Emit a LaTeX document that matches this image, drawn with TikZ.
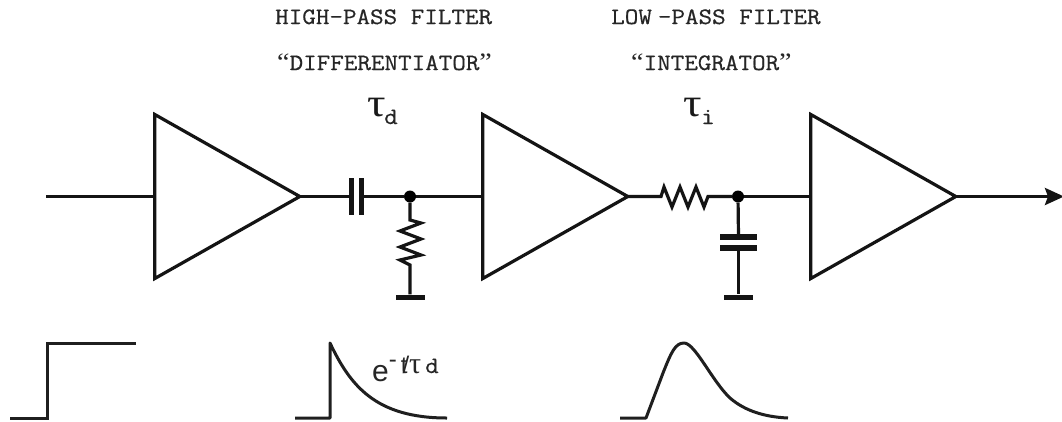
\documentclass[tikz,border=0pt]{standalone}
\usepackage{fontspec}
\usetikzlibrary{shapes.geometric,arrows.meta}
\newfontfamily\sansf{Liberation Sans}
\newfontfamily\serf{Liberation Serif}
\newfontfamily\monof[FakeBold=0.5]{Latin Modern Mono}
\tikzset{
  wire/.style={line width=3.2pt,draw=black!92,line join=miter},
  fromapex/.style={shorten <=-4pt},
  amp/.style={isosceles triangle,isosceles triangle stretches,shape border rotate=0,
    draw=black!92,line width=3.2pt,inner sep=0pt,minimum height=145pt,minimum width=164pt,anchor=apex},
  hdr/.style={inner sep=0pt,anchor=base west,xscale=1.12,text=black!85,font=\monof\fontsize{23.5}{24}\selectfont},
  tausym/.style={inner sep=0pt,anchor=base west,xscale=1.15,text=black!90,font=\serf\fontsize{40}{42}\selectfont},
  jun/.style={circle,fill=black,inner sep=0pt,minimum size=12pt},
  vplate/.style={rectangle,fill=black!92,inner sep=0pt,minimum width=5.5pt,minimum height=37pt},
  hplate/.style={rectangle,fill=black!92,inner sep=0pt,minimum width=37pt,minimum height=5.5pt},
  gnd/.style={rectangle,fill=black!92,inner sep=0pt,minimum width=29pt,minimum height=5pt},
  wave/.style={line width=3pt,draw=black!88,line join=round}
}
\newcommand{\myopenq}{{\serf\fontsize{25}{26}\selectfont “}}
\newcommand{\myclosq}{{\serf\fontsize{25}{26}\selectfont ”}}
\begin{document}
\begin{tikzpicture}[x=1pt,y=-1pt]
\useasboundingbox (0,0) rectangle (1062,421);
\fill[white] (0,0) rectangle (1062,421);
% headers
\node[hdr] (h1) at (275,24) {HIGH-PASS FILTER};
\node[hdr] (h2) at (277,70) {\myopenq DIFFERENTIATOR\myclosq};
\node[hdr] (h3) at (611,24) {LOW\kern5.4pt-PASS FILTER};
\node[hdr] (h4) at (631,70) {\myopenq INTEGRATOR\myclosq};
\node[tausym] (t1) at (367,116) {τ};
\node[hdr] (t1s) at (384,124) {d};
\node[tausym] (t2) at (683,116) {τ};
\node[hdr] (t2s) at (701,124) {i};
% amplifiers
\node[amp] (a1) at (304,196.5) {};
\node[amp] (a2) at (632,196.5) {};
\node[amp] (a3) at (960,196.5) {};
% high-pass
\coordinate (in) at (46,196.5);
\draw[wire] (in) -- (a1.lower side);
\node[vplate] (c1a) at (351.5,196.5) {};
\node[vplate] (c1b) at (361.5,196.5) {};
\node[jun] (j1) at (410,196.5) {};
\draw[wire,fromapex] (a1.apex) -- (c1a);
\draw[wire] (c1b) -- (j1);
\draw[wire] (j1) -- (a2.lower side);
\node[gnd] (g1) at (410,297) {};
\draw[wire] (j1) -- (410,220) -- (421,223) -- (400,231) -- (421,239) -- (400,247) -- (421,255) -- (400,260) -- (410,265) -- (g1);
% low-pass
\node[jun] (j2) at (738,196.5) {};
\draw[wire,fromapex] (a2.apex) -- (661,196.5) -- (664,187) -- (672,207) -- (680,187) -- (688,207) -- (696,187) -- (704,207) -- (708,196.5) -- (j2);
\draw[wire] (j2) -- (a3.lower side);
\node[hplate] (c2a) at (738.5,237) {};
\node[hplate] (c2b) at (738.5,248) {};
\node[gnd] (g2) at (738.5,297) {};
\draw[wire] (j2) -- (c2a);
\draw[wire] (c2b) -- (g2);
% output
\coordinate (out) at (1064,196.5);
\draw[wire,fromapex,-{Stealth[length=19pt,width=17pt,inset=3pt]}] (a3.apex) -- (out);
% waveforms
\draw[wave,line join=miter] (10,418) -- (47,418) -- (47,343) -- (136,343);
\draw[wave] (295,418) -- (330,418) -- (330,343) .. controls (350,385) and (375,418) .. (447,418);
\draw[wave] (620,418) -- (646,418) -- (663,373) .. controls (671,353) and (675,343) .. (684,343) .. controls (695,343) and (712,381) .. (730,398) .. controls (745,411) and (765,417) .. (788,418);
\node[inner sep=0pt,anchor=base west,text=black!85] (e1) at (372,381.5)
  {\sansf\fontsize{30}{32}\selectfont e\raisebox{14pt}{\fontsize{24}{26}\selectfont -}\kern4pt\raisebox{8.5pt}{\fontsize{24}{26}\selectfont t\kern-5pt/}\raisebox{8.5pt}{\serf\fontsize{30}{32}\selectfont τ}};
\node[hdr] (e2) at (425,373) {d};
\end{tikzpicture}
\end{document}
